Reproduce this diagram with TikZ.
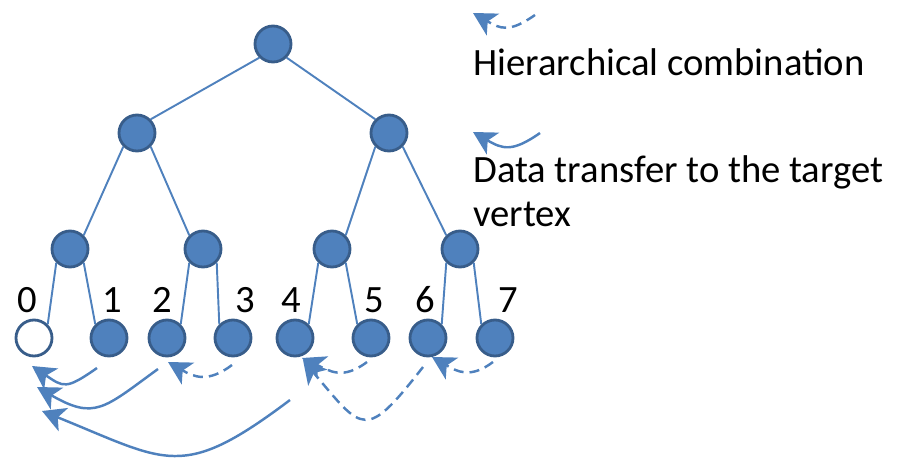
\documentclass[tikz,border=0pt]{standalone}
\usepackage{fontspec}
\setmainfont{Carlito}
\usetikzlibrary{arrows.meta,calc}

\definecolor{vtxfill}{HTML}{4F81BD}
\definecolor{vtxrim}{HTML}{385D8A}

\tikzset{
  vtx/.style={circle, draw=vtxrim, fill=vtxfill, line width=1.6pt,
              minimum size=0.72cm, inner sep=0pt},
  tree/.style={vtxfill, line width=1.1pt},
  xfer/.style={vtxfill, line width=1.4pt,
               -{Stealth[length=0.46cm,width=0.5cm,inset=0.12cm]}},
  comb/.style={xfer, dash pattern=on 0.2cm off 0.12cm},
  txt/.style={font=\fontsize{22}{25}\selectfont, inner sep=0pt},
}

\begin{document}
\begin{tikzpicture}[x=0.02cm, y=0.02cm]
  \useasboundingbox (0,0) rectangle (903,458);
  % tree
  \node[vtx] (r)  at (273,414) {};
  \node[vtx] (a)  at (137,325) {};
  \node[vtx] (b)  at (389,325) {};
  \node[vtx] (a0) at (70,209) {};
  \node[vtx] (a1) at (203,209) {};
  \node[vtx] (b0) at (332,209) {};
  \node[vtx] (b1) at (460,209) {};
  \node[vtx, fill=white] (l0) at (34,120) {};
  \foreach \i/\x in {1/109,2/167,3/233,4/295,5/371,6/428,7/495}
    \node[vtx] (l\i) at (\x,120) {};
  \foreach \i/\x in {0/27,1/112,2/162,3/245,4/291,5/374,6/425,7/508}
    \node[txt] (n\i) at (\x,158) {\i};
  \foreach \p/\c in {r/a,a/a0,b/b0,a0/l0,a1/l2,b0/l4,b1/l6}
    \draw[tree] (\p.south west) -- (\c.north east);
  \foreach \p/\c in {r/b,a/a1,b/b1,a0/l1,a1/l3,b0/l5,b1/l7}
    \draw[tree] (\p.south east) -- (\c.north west);

  % transfers to vertex 0
  \draw[xfer] ($(l1)+(-12,-30)$) to[out=215,in=326,looseness=1.5] ($(l0)+(-2,-28)$);
  \draw[xfer] ($(l2)+(-9,-31)$) to[out=216,in=330,looseness=1.4] ($(l0)+(3,-49)$);
  \draw[xfer] ($(l4)+(-5,-62)$) to[out=217,in=338,looseness=1.4] ($(l0)+(8,-73)$);
  % combination steps
  \draw[comb] ($(l3)+(-1,-27)$) to[out=217,in=330,looseness=1.2] ($(l2)+(1,-24)$);
  \draw[comb] ($(l5)+(-4,-24)$) to[out=217,in=335,looseness=1.2] ($(l4)+(7,-20)$);
  \draw[comb] ($(l6)+(-5,-29)$) to[out=232,in=310,looseness=2] ($(l4)+(8,-22)$);
  \draw[comb] ($(l7)+(-2,-24)$) to[out=217,in=330,looseness=1.2] ($(l6)+(4,-19)$);

  % legend
  \coordinate (c0) at (535,443);
  \coordinate (c1) at (473,445);
  \draw[comb] (c0) to[out=215,in=330,looseness=1.3] (c1);
  \node[txt, anchor=base west] (lgcomb) at (473,383) {Hierarchical combination};
  \coordinate (t0) at (540,325);
  \coordinate (t1) at (473,326);
  \draw[xfer] (t0) to[out=215,in=330,looseness=1.3] (t1);
  \node[txt, anchor=base west, align=left] (lgxfer) at (473,232)
    {Data transfer to the target\\vertex};
\end{tikzpicture}
\end{document}
